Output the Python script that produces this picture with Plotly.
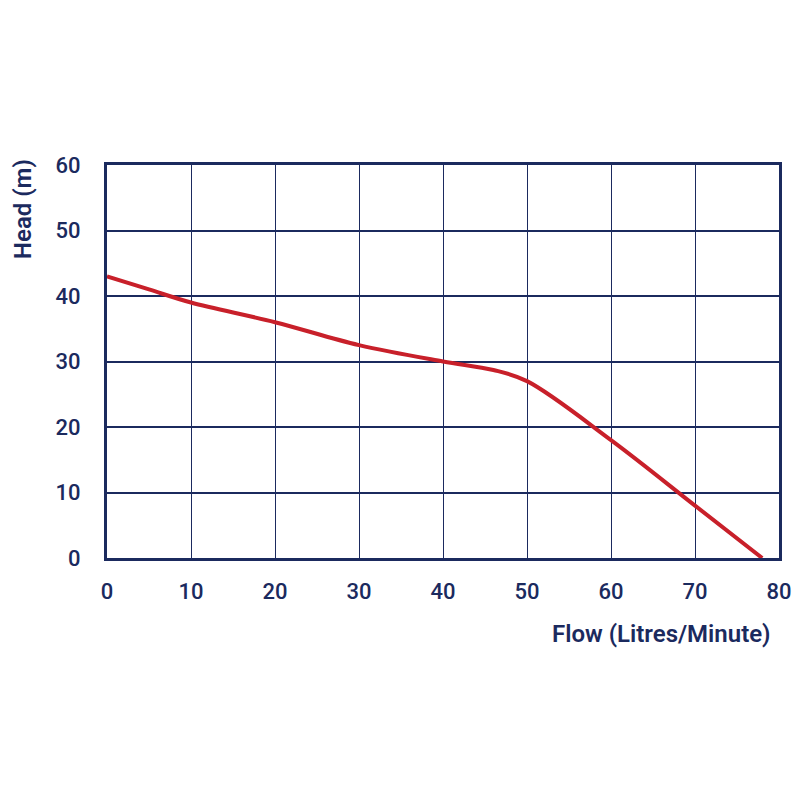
import plotly.graph_objects as go

# pump curve
flow = [0, 5, 10, 20, 30, 40, 46, 50, 60, 70, 78]
head = [43, 41, 39, 36, 32.5, 30, 28.7, 27, 18, 8, 0]

x_ticks = [0, 10, 20, 30, 40, 50, 60, 70, 80]
y_ticks = [0, 10, 20, 30, 40, 50, 60]

navy = "#1b2a5e"
red = "#c8202a"

fig = go.Figure()
fig.add_trace(go.Scatter(x=flow, y=head, mode="lines",
                         line=dict(color=red, width=4, shape="spline", smoothing=1.0),
                         showlegend=False, hoverinfo="skip"))

fig.update_xaxes(range=[0, 80], tickvals=x_ticks, showgrid=True, gridcolor=navy, gridwidth=1,
                 showline=True, linecolor=navy, linewidth=3, mirror=True, zeroline=False,
                 ticklabelstandoff=12, tickfont=dict(size=22, color=navy, weight=500))
fig.update_yaxes(range=[0, 60], tickvals=y_ticks, showgrid=True, gridcolor=navy, gridwidth=2,
                 showline=True, linecolor=navy, linewidth=3, mirror=True, zeroline=False,
                 ticklabelstandoff=19, tickfont=dict(size=22, color=navy, weight=500))

fig.add_annotation(text="Flow (Litres/Minute)", xref="paper", yref="paper", x=0.991, y=-0.193,
                   xanchor="right", yanchor="middle", showarrow=False,
                   font=dict(size=24, color=navy, family="Roboto", weight=600))
fig.add_annotation(text="Head (m)", xref="paper", yref="paper", x=-0.125, y=0.888,
                   xanchor="center", yanchor="middle", textangle=-90, showarrow=False,
                   font=dict(size=24, color=navy, family="Roboto", weight=600))

fig.update_layout(width=800, height=800, plot_bgcolor="white", paper_bgcolor="white",
                  margin=dict(l=99, r=29, t=157, b=250),
                  font=dict(family="Roboto", color=navy))

fig.write_html("out.html")
